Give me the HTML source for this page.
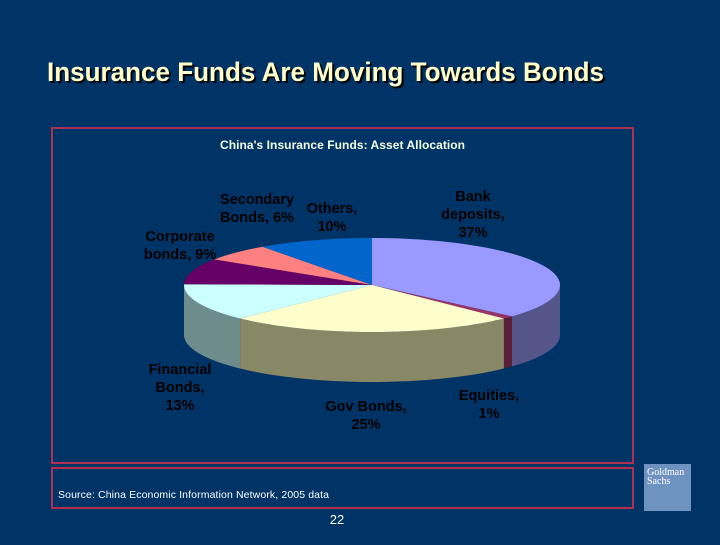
<!DOCTYPE html>
<html><head><meta charset="utf-8"><style>
body{margin:0;width:720px;height:540px;background:#003366;overflow:hidden;font-family:"Liberation Sans",Arial,sans-serif}
</style></head><body>
<svg width="720" height="540" xmlns="http://www.w3.org/2000/svg">
<rect width="720" height="540" fill="#003366"/>
<text x="49" y="83" font-size="26.5" font-weight="bold" fill="#000" textLength="557" lengthAdjust="spacingAndGlyphs">Insurance Funds Are Moving Towards Bonds</text>
<text x="47" y="81" font-size="26.5" font-weight="bold" fill="#ffffcc" textLength="557" lengthAdjust="spacingAndGlyphs">Insurance Funds Are Moving Towards Bonds</text>
<rect x="52" y="128" width="581" height="335" fill="none" stroke="#b03050" stroke-width="2"/>
<rect x="52" y="468" width="581" height="40" fill="none" stroke="#b03050" stroke-width="2"/>
<text x="220" y="149" font-size="12" font-weight="bold" fill="#f4ffe8" textLength="245">China's Insurance Funds: Asset Allocation</text>
<g id="pie"></g>
<g font-size="14.5" font-weight="bold" fill="#000" text-anchor="middle">
<text x="473" y="201"><tspan x="473">Bank</tspan><tspan x="473" dy="18">deposits,</tspan><tspan x="473" dy="18">37%</tspan></text>
<text x="489" y="400"><tspan x="489">Equities,</tspan><tspan x="489" dy="18">1%</tspan></text>
<text x="366" y="411"><tspan x="366">Gov Bonds,</tspan><tspan x="366" dy="18">25%</tspan></text>
<text x="180" y="374"><tspan x="180">Financial</tspan><tspan x="180" dy="18">Bonds,</tspan><tspan x="180" dy="18">13%</tspan></text>
<text x="180" y="241"><tspan x="180">Corporate</tspan><tspan x="180" dy="18">bonds, 9%</tspan></text>
<text x="257" y="204"><tspan x="257">Secondary</tspan><tspan x="257" dy="18">Bonds, 6%</tspan></text>
<text x="332" y="213"><tspan x="332">Others,</tspan><tspan x="332" dy="18">10%</tspan></text>
</g>
<text x="58" y="498" font-size="10.5" fill="#fff" textLength="271">Source:  China Economic Information Network, 2005 data</text>
<text x="337" y="524" font-size="13" fill="#fff" text-anchor="middle">22</text>
<rect x="644" y="464" width="47" height="47" fill="#6f93c0"/>
<text x="647" y="475" font-size="10" fill="#fff" font-family="Liberation Serif,serif"><tspan x="647">Goldman</tspan><tspan x="647" dy="9">Sachs</tspan></text>
</svg>
<script>
const categories=["Bank deposits","Equities","Gov Bonds","Financial Bonds","Corporate bonds","Secondary Bonds","Others"];
const values=[37,1,25,13,9,6,10];
const topColors=["#9999ff","#993366","#ffffcc","#ccffff","#660066","#ff8080","#0066cc"];
const sideColors=["#55558a","#5a1f38","#888866","#6e8c8c","#3a003a","#8a4646","#003a75"];
const cx=372,cy=285,rx=188,ry=47,dep=50;
const g=document.getElementById('pie');
const NS='http://www.w3.org/2000/svg';
const total=values.reduce((a,b)=>a+b,0);
function px(t){return cx+rx*Math.sin(t)}
function py(t,d){return cy-ry*Math.cos(t)+(d||0)}
function arc(a,b,d,n){let s='';for(let i=0;i<=n;i++){const t=a+(b-a)*i/n;s+=(i?' L':'')+px(t).toFixed(2)+' '+py(t,d).toFixed(2);}return s;}
let acc=0;const ang=[];
values.forEach(v=>{const a=acc/total*2*Math.PI;acc+=v;ang.push([a,acc/total*2*Math.PI]);});
ang.forEach(([a,b],i)=>{
 const lo=Math.max(a,Math.PI/2),hi=Math.min(b,1.5*Math.PI);
 if(hi>lo){
  const p=document.createElementNS(NS,'path');
  const back=' L'+arc(hi,lo,dep,40);
  p.setAttribute('d','M'+arc(lo,hi,0,40)+back+' Z');
  p.setAttribute('fill',sideColors[i]);
  
  
  g.appendChild(p);
 }
});
ang.forEach(([a,b],i)=>{
 const p=document.createElementNS(NS,'path');
 p.setAttribute('d','M'+cx+' '+cy+' L'+arc(a,b,0,60)+' Z');
 p.setAttribute('fill',topColors[i]);
 
 
 g.appendChild(p);
});
</script>
</body></html>
